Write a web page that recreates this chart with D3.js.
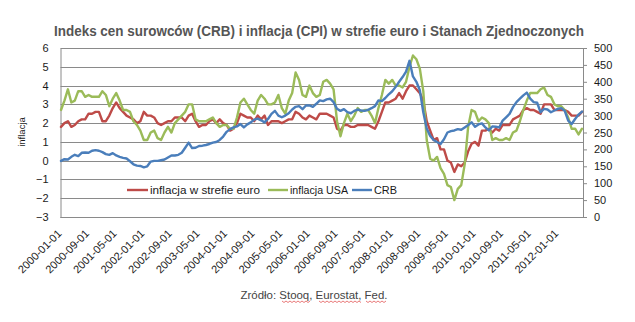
<!DOCTYPE html>
<html><head><meta charset="utf-8">
<script src="https://cdn.jsdelivr.net/npm/d3@7"></script>
<style>
html,body{margin:0;padding:0;background:#fff;}
svg{display:block;}
text{font-family:"Liberation Sans",Arial,sans-serif;}
</style></head>
<body>
<svg id="chart" width="635" height="322"></svg>
<script>
// ---------- data ----------
const startMonth = "2000-01-01";
const endMonthExclusive = "2012-09-01";
const tickLabels = ["2000-01-01","2000-09-01","2001-05-01","2002-01-01","2002-09-01","2003-05-01","2004-01-01","2004-09-01","2005-05-01","2006-01-01","2006-09-01","2007-05-01","2008-01-01","2008-09-01","2009-05-01","2010-01-01","2010-09-01","2011-05-01","2012-01-01"];
const leftTicks = [6,5,4,3,2,1,0,-1,-2,-3];
const rightTicks = [500,450,400,350,300,250,200,150,100,50,0];
const seriesNames = ["inflacja w strefie euro","inflacja USA","CRB"];

const euroCPI = [
 1.8,2.0,2.1,1.8,1.9,2.1,2.2,2.2,2.5,2.5,2.6,2.6,
 2.1,2.1,2.4,2.8,3.1,2.8,2.6,2.4,2.3,2.2,2.0,2.1,
 2.6,2.4,2.4,2.3,2.0,1.9,2.0,2.1,2.1,2.3,2.3,2.3,
 2.1,2.4,2.5,2.1,1.8,1.9,1.9,2.1,2.2,2.0,2.2,2.0,
 1.9,1.6,1.7,2.0,2.5,2.4,2.3,2.3,2.1,2.4,2.2,2.4,
 1.9,2.1,2.1,2.1,2.0,2.1,2.2,2.2,2.6,2.5,2.3,2.2,
 2.4,2.3,2.2,2.5,2.5,2.5,2.4,2.3,1.7,1.6,1.9,1.9,
 1.8,1.8,1.9,1.9,1.9,1.9,1.8,1.7,2.1,2.6,3.1,3.1,
 3.2,3.3,3.6,3.3,3.7,4.0,4.0,3.8,3.6,3.2,2.1,1.6,
 1.1,1.2,0.6,0.6,0.0,-0.1,-0.6,-0.2,-0.3,-0.1,0.5,0.9,
 1.0,0.8,1.6,1.6,1.7,1.5,1.7,1.6,1.9,1.9,1.9,2.2,
 2.3,2.4,2.7,2.8,2.7,2.7,2.6,2.5,3.0,3.0,3.0,2.7,
 2.7,2.7,2.7,2.6,2.4,2.4,2.4,2.6];

const usCPI = [
 2.7,3.2,3.8,3.1,3.2,3.7,3.7,3.4,3.5,3.4,3.4,3.4,
 3.7,3.5,2.9,3.3,3.6,3.2,2.7,2.7,2.6,2.1,1.9,1.6,
 1.1,1.1,1.5,1.6,1.2,1.1,1.5,1.8,1.5,2.0,2.2,2.4,
 2.6,3.0,3.0,2.2,2.1,2.1,2.1,2.2,2.3,2.0,1.8,1.9,
 1.9,1.7,1.7,2.3,3.1,3.3,3.0,2.7,2.5,3.2,3.5,3.3,
 3.0,3.0,3.1,3.5,2.8,2.5,3.2,3.6,4.7,4.3,3.5,3.4,
 4.0,3.6,3.4,3.5,4.2,4.3,4.1,3.8,2.1,1.3,2.0,2.5,
 2.1,2.4,2.8,2.6,2.7,2.7,2.4,2.0,2.8,3.5,4.3,4.1,
 4.3,4.0,4.0,3.9,4.2,5.0,5.6,5.4,4.9,3.7,1.1,0.1,
 0.0,0.2,-0.4,-0.7,-1.3,-1.4,-2.1,-1.5,-1.3,-0.2,1.8,2.7,
 2.6,2.1,2.3,2.2,2.0,1.1,1.2,1.1,1.1,1.2,1.1,1.5,
 1.6,2.1,2.7,3.2,3.6,3.6,3.6,3.8,3.9,3.5,3.4,3.0,
 2.9,2.9,2.7,2.3,1.7,1.7,1.4,1.7];

const crb = [
 166,171,170,178,184,180,190,191,190,196,198,196,
 192,186,184,189,182,178,175,173,165,156,152,151,
 147,150,164,166,166,168,170,176,182,182,184,190,
 205,220,204,205,210,211,213,216,220,222,228,238,
 252,260,265,268,275,265,274,280,288,291,286,280,
 290,305,314,300,295,300,307,318,326,328,319,330,
 330,326,335,345,343,348,350,340,320,314,319,310,
 307,314,318,315,314,317,322,328,345,343,352,363,
 372,385,400,414,430,462,416,400,375,310,262,240,
 228,222,216,230,250,254,256,260,258,265,272,280,
 267,274,277,265,256,268,267,265,285,295,305,325,
 340,350,360,368,350,340,338,310,320,318,310,315,
 320,322,314,285,275,290,303,312];

// ---------- layout ----------
const svg = d3.select("#chart");
const plot = {left:60.5, right:583, top:48, bottom:217};
const colors = {euro:"#BE4B48", us:"#9BBB59", crb:"#4A7EBB"};
const gridColor = "#8a8a8a";

const fmt = d3.timeFormat("%Y-%m-%d");
const categories = d3.timeMonth.range(new Date(startMonth+"T00:00:00"), new Date(endMonthExclusive+"T00:00:00")).map(fmt);

const x = d3.scalePoint().domain(categories).range([61, 582]).padding(0);
const yL = d3.scaleLinear().domain([-3,6]).range([plot.bottom, plot.top]);
const yR = d3.scaleLinear().domain([0,500]).range([plot.bottom, plot.top]);

// gridlines
svg.append("g").selectAll("line").data(leftTicks).join("line")
  .attr("x1", plot.left).attr("x2", plot.right)
  .attr("y1", d => Math.round(yL(d))+0.5).attr("y2", d => Math.round(yL(d))+0.5)
  .attr("stroke", gridColor).attr("stroke-width",1);

// left axis
const gL = svg.append("g").attr("transform", `translate(${plot.left},0)`)
  .call(d3.axisLeft(yL).tickValues(leftTicks).tickSize(0).tickPadding(12).tickFormat(d3.format("d")));
gL.select(".domain").attr("stroke", gridColor);
gL.selectAll("text").attr("font-size", 11).attr("fill","#1a1a1a").attr("font-family","Liberation Sans, Arial, sans-serif");

// right axis
const gR = svg.append("g").attr("transform", `translate(${plot.right},0)`)
  .call(d3.axisRight(yR).tickValues(rightTicks).tickSize(4).tickPadding(7).tickFormat(d3.format("d")));
gR.select(".domain").attr("stroke", gridColor);
gR.selectAll(".tick line").attr("stroke", gridColor);
gR.selectAll("text").attr("font-size", 11).attr("fill","#1a1a1a").attr("font-family","Liberation Sans, Arial, sans-serif");

// bottom axis
const gB = svg.append("g").attr("transform", `translate(0,${Math.round(plot.bottom)+0.5})`)
  .call(d3.axisBottom(x).tickValues(tickLabels).tickSize(0).tickPadding(0));
gB.select(".domain").attr("stroke", gridColor).attr("d", `M${plot.left},0H${plot.right}`);
gB.selectAll("text")
  .attr("font-size", 11).attr("fill","#1a1a1a").attr("font-family","Liberation Sans, Arial, sans-serif")
  .attr("text-anchor","end").attr("dy","0.35em").attr("y",0)
  .attr("transform","translate(-2,14) rotate(-45)");

// lines
function drawLine(values, scale, color){
  const line = d3.line().x((d,i)=>x(categories[i])).y(d=>scale(d)).curve(d3.curveLinear);
  svg.append("path").datum(values).attr("d", line)
    .attr("fill","none").attr("stroke", color).attr("stroke-width", 2.4)
    .attr("stroke-linejoin","round").attr("stroke-linecap","round");
}
drawLine(euroCPI, yL, colors.euro);
drawLine(usCPI, yL, colors.us);
drawLine(crb, yR, colors.crb);

// legend
const legendItems = [
  {name:seriesNames[0], color:colors.euro, x1:127, x2:148, tx:150, tw:110},
  {name:seriesNames[1], color:colors.us,   x1:268, x2:288, tx:290, tw:58},
  {name:seriesNames[2], color:colors.crb,  x1:352, x2:372, tx:374, tw:23}
];
const lg = svg.append("g");
const ly = 190;
legendItems.forEach(it=>{
  lg.append("line").attr("x1",it.x1).attr("x2",it.x2).attr("y1",ly).attr("y2",ly)
    .attr("stroke",it.color).attr("stroke-width",2.4);
  lg.append("text").attr("x",it.tx).attr("y",ly).attr("dy","0.35em")
    .attr("font-size",11.5).attr("fill","#1a1a1a")
    .attr("textLength",it.tw).attr("lengthAdjust","spacingAndGlyphs")
    .text(it.name);
});

// title
svg.append("text").attr("x",319).attr("y",36).attr("text-anchor","middle")
  .attr("font-family","'Liberation Sans Narrow','Arial Narrow','Liberation Sans',sans-serif")
  .attr("font-weight","bold").attr("font-size",14).attr("fill","#555555")
  .attr("textLength",530).attr("lengthAdjust","spacingAndGlyphs")
  .text("Indeks cen surowców (CRB) i inflacja (CPI) w strefie euro i Stanach Zjednoczonych");

// left axis title
svg.append("text").attr("transform","translate(25,132) rotate(-90)")
  .attr("text-anchor","middle").attr("font-size",9.5).attr("fill","#1a1a1a")
  .text("inflacja");

// source
svg.append("text").attr("x",314).attr("y",295).attr("dy","0.35em").attr("text-anchor","middle")
  .attr("font-size",11).attr("fill","#444")
  .attr("textLength",147).attr("lengthAdjust","spacingAndGlyphs")
  .text("Zródło: Stooq, Eurostat, Fed.");

// spell-check squiggles under source words
const squiggles = [[282,310],[319,360],[366,386]];
squiggles.forEach(([a,b])=>{
  let d = `M${a},301`;
  for(let px=a, k=0; px<b; px+=2, k++) d += `L${px+2},${k%2?301:302.5}`;
  svg.append("path").attr("d",d).attr("fill","none").attr("stroke","#e04040").attr("stroke-width",0.7);
});
</script>
</body></html>
